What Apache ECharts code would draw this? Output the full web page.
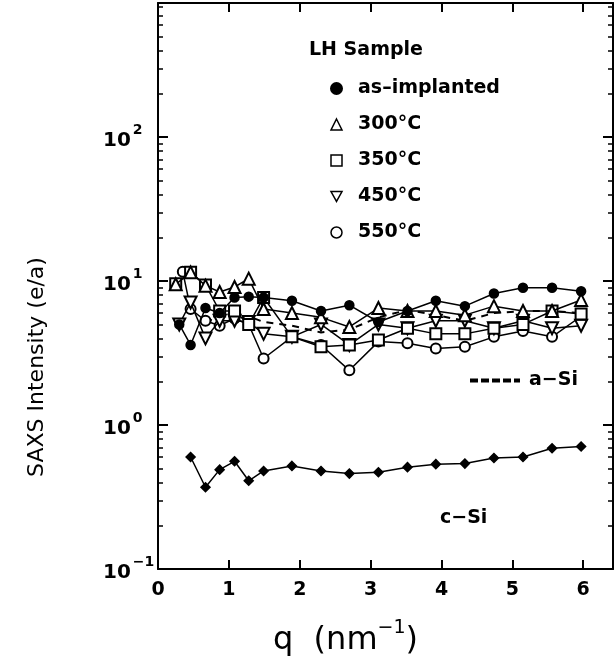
<!DOCTYPE html>
<html><head><meta charset="utf-8">
<script src="https://cdn.jsdelivr.net/npm/echarts@6/dist/echarts.min.js"></script>
<style>html,body{margin:0;padding:0;background:#fff}#c{width:616px;height:671px}</style>
</head><body><div id="c"></div>
<script>
// ---- data (q in nm^-1, intensity in e/a) ----
const xTicks = [0, 1, 2, 3, 4, 5, 6];
const yMajor = [0.1, 1, 10, 100];
const yMinor = [0.2,0.3,0.4,0.5,0.6,0.7,0.8,0.9,2,3,4,5,6,7,8,9,20,30,40,50,60,70,80,90,200,300,400,500,600,700,800];

const asImplanted = [[0.30,5.0],[0.46,3.6],[0.67,6.5],[0.87,6.0],[1.08,7.7],[1.28,7.8],[1.49,7.7],[1.89,7.3],[2.30,6.2],[2.70,6.8],[3.11,5.2],[3.52,6.2],[3.92,7.3],[4.33,6.7],[4.74,8.2],[5.15,9.0],[5.56,9.0],[5.97,8.5]];
const t300 = [[0.25,9.5],[0.46,11.5],[0.67,9.3],[0.87,8.4],[1.08,9.1],[1.28,10.4],[1.49,6.4],[1.89,6.0],[2.30,5.6],[2.70,4.8],[3.11,6.5],[3.52,6.2],[3.92,6.2],[4.33,5.8],[4.74,6.7],[5.15,6.2],[5.56,6.2],[5.97,7.4]];
const t350 = [[0.25,9.6],[0.46,11.5],[0.67,9.4],[0.87,6.2],[1.08,6.2],[1.28,5.0],[1.49,7.7],[1.89,4.1],[2.30,3.5],[2.70,3.6],[3.11,3.9],[3.52,4.7],[3.92,4.3],[4.33,4.3],[4.74,4.7],[5.15,5.0],[5.56,6.2],[5.97,5.9]];
const t450 = [[0.30,5.0],[0.46,7.1],[0.67,4.0],[0.87,5.3],[1.08,5.3],[1.28,5.2],[1.49,4.3],[1.89,4.1],[2.30,5.0],[2.70,3.6],[3.11,5.0],[3.52,4.7],[3.92,5.3],[4.33,5.3],[4.74,4.7],[5.15,5.3],[5.56,4.7],[5.97,4.9]];
const t550 = [[0.35,11.6],[0.46,6.4],[0.67,5.3],[0.87,4.9],[1.08,5.5],[1.28,5.0],[1.49,2.9],[1.89,4.1],[2.30,3.6],[2.70,2.4],[3.11,3.8],[3.52,3.7],[3.92,3.4],[4.33,3.5],[4.74,4.1],[5.15,4.5],[5.56,4.1],[5.97,5.7]];
const aSi = [[0.67,5.6],[0.87,5.0],[1.08,5.5],[1.28,5.7],[1.49,5.2],[1.89,4.9],[2.30,4.4],[2.70,4.6],[3.11,5.6],[3.52,6.3],[3.92,5.8],[4.33,5.3],[4.74,6.0],[5.15,6.2],[5.56,6.2],[5.97,6.0]];
const cSi = [[0.46,0.60],[0.67,0.37],[0.87,0.49],[1.08,0.56],[1.28,0.41],[1.49,0.48],[1.89,0.52],[2.30,0.48],[2.70,0.46],[3.11,0.47],[3.52,0.51],[3.92,0.535],[4.33,0.54],[4.74,0.59],[5.15,0.60],[5.56,0.69],[5.97,0.71]];

const seriesNames = ['as\u2013implanted', '300°C', '350°C', '450°C', '550°C'];

const FONT = 'DejaVu Sans';
const BLACK = '#000';
const Y_MIN = 0.1, Y_MAX = 855, X_MIN = 0, X_MAX = 6.42;

function isInt(v, list){ return list.some(t => Math.abs(t - v) < 1e-9); }

function yLabel(v){
  if (!isInt(v, yMajor)) return '';
  const e = Math.round(Math.log10(v));
  return '{b|10}{s|' + (e < 0 ? '\u2212' + (-e) : e) + '}';
}

function mkSeries(name, data, symbol, size, extra){
  return Object.assign({
    name, type: 'line', data, symbol, symbolSize: size,
    xAxisIndex: 0, yAxisIndex: 0,
    lineStyle: { color: BLACK, width: 1.5 },
    itemStyle: { color: BLACK, borderColor: BLACK, borderWidth: 1.5 },
    emphasis: { disabled: true }, silent: true, animation: false
  }, extra || {});
}

const baseY = { type: 'log', logBase: 10, min: Y_MIN, max: Y_MAX, gridIndex: 0, splitLine: { show: false } };
const baseX = { type: 'value', min: X_MIN, max: X_MAX, gridIndex: 0, splitLine: { show: false } };
const legendText = { fontFamily: FONT, fontSize: 19, fontWeight: 'bold', color: BLACK };

const chart = echarts.init(document.getElementById('c'), null, { renderer: 'canvas' });
chart.setOption({
  backgroundColor: '#fff',
  animation: false,
  grid: { left: 158, right: 3, top: 3, bottom: 102 },
  title: { text: 'LH Sample', left: 309, top: 41, padding: 0, textStyle: { fontFamily: FONT, fontSize: 19, fontWeight: 'bold', color: BLACK } },
  legend: [{
    data: [
      { name: seriesNames[0], icon: 'circle', itemStyle: { color: BLACK } },
      { name: seriesNames[1], icon: 'triangle', itemStyle: { color: '#fff', borderColor: BLACK, borderWidth: 1.5 } },
      { name: seriesNames[2], icon: 'rect', itemStyle: { color: '#fff', borderColor: BLACK, borderWidth: 1.5 } },
      { name: seriesNames[3], icon: 'path://M0,0L10,0L5,9Z', itemStyle: { color: '#fff', borderColor: BLACK, borderWidth: 1.5 } },
      { name: seriesNames[4], icon: 'circle', itemStyle: { color: '#fff', borderColor: BLACK, borderWidth: 1.5 } }
    ],
    orient: 'vertical', left: 330, top: 79, padding: 0, itemWidth: 11, itemHeight: 11, itemGap: 17,
    selectedMode: false,
    textStyle: Object.assign({ lineHeight: 17, padding: [0, 0, 0, 11] }, legendText)
  }, {
    data: [{ name: 'a\u2212Si', icon: 'path://M0,0h6v2h-6zM11,0h6v2h-6zM22,0h6v2h-6zM33,0h6v2h-6zM44,0h4v2h-4z' }],
    left: 470, top: 371, padding: 0, itemWidth: 50, itemHeight: 2, selectedMode: false,
    itemStyle: { color: BLACK },
    textStyle: Object.assign({ padding: [0, 0, 0, 4] }, legendText)
  }],
  graphic: [
    { type: 'text', left: 440, top: 509, silent: true, style: { text: 'c\u2212Si', font: 'bold 19px ' + FONT, fill: BLACK } },
    { type: 'text', x: 37, y: 367, rotation: Math.PI / 2, silent: true,
      style: { text: 'SAXS Intensity (e/a)', font: '22px ' + FONT, fill: BLACK, align: 'center', verticalAlign: 'middle' } }
  ],
  xAxis: [
    Object.assign({}, baseX, {
      position: 'bottom', interval: 1,
      name: '{a|q  (nm}{s|\u22121}{a|)}', nameLocation: 'middle', nameGap: 50,
      nameTextStyle: { padding: [0, 80, 0, 0], rich: { a: { fontFamily: FONT, fontSize: 32, color: BLACK, lineHeight: 38, verticalAlign: 'bottom' }, s: { fontFamily: FONT, fontSize: 19, color: BLACK, lineHeight: 38, verticalAlign: 'top' } } },
      axisLine: { show: true, lineStyle: { color: BLACK, width: 2 } },
      axisTick: { show: true, inside: true, length: 9, lineStyle: { color: BLACK, width: 2 }, customValues: xTicks },
      axisLabel: { show: true, margin: 12, customValues: xTicks, fontFamily: FONT, fontSize: 19, fontWeight: 'bold', color: BLACK, formatter: v => isInt(v, xTicks) ? String(v) : '' }
    }),
    Object.assign({}, baseX, {
      position: 'top', interval: 1,
      axisLine: { show: true, lineStyle: { color: BLACK, width: 2 } },
      axisTick: { show: true, inside: true, length: 9, lineStyle: { color: BLACK, width: 2 }, customValues: xTicks },
      axisLabel: { show: false }
    })
  ],
  yAxis: [
    Object.assign({}, baseY, {
      position: 'left',
      axisLine: { show: true, lineStyle: { color: BLACK, width: 2 } },
      axisTick: { show: true, inside: true, length: 10, lineStyle: { color: BLACK, width: 2 }, customValues: yMajor },
      axisLabel: { show: true, margin: 55, align: 'left', customValues: yMajor, formatter: yLabel,
        rich: { b: { fontFamily: FONT, fontSize: 20, fontWeight: 'bold', color: BLACK, lineHeight: 28, verticalAlign: 'bottom' },
                s: { fontFamily: FONT, fontSize: 14, fontWeight: 'bold', color: BLACK, lineHeight: 14, verticalAlign: 'top', padding: [0, 0, 0, 2] } } }
    }),
    Object.assign({}, baseY, {
      position: 'left',
      axisLine: { show: false },
      axisTick: { show: true, inside: true, length: 5, lineStyle: { color: BLACK, width: 1.5 }, customValues: yMinor },
      axisLabel: { show: false }
    }),
    Object.assign({}, baseY, {
      position: 'right',
      axisLine: { show: true, lineStyle: { color: BLACK, width: 2 } },
      axisTick: { show: true, inside: true, length: 10, lineStyle: { color: BLACK, width: 2 }, customValues: yMajor },
      axisLabel: { show: false }
    }),
    Object.assign({}, baseY, {
      position: 'right',
      axisLine: { show: false },
      axisTick: { show: true, inside: true, length: 5, lineStyle: { color: BLACK, width: 1.5 }, customValues: yMinor },
      axisLabel: { show: false }
    })
  ],
  series: [
    mkSeries('a\u2212Si', aSi, 'none', 0, { lineStyle: { color: BLACK, width: 2, type: [7, 6] }, z: 1 }),
    mkSeries(seriesNames[4], t550, 'emptyCircle', 10, { z: 2 }),
    mkSeries(seriesNames[3], t450, 'emptyTriangle', 12, { symbolRotate: 180, z: 3 }),
    mkSeries(seriesNames[2], t350, 'emptyRect', 11, { z: 4 }),
    mkSeries(seriesNames[1], t300, 'emptyTriangle', 12, { z: 5 }),
    mkSeries(seriesNames[0], asImplanted, 'circle', 9, { z: 6 }),
    mkSeries('c\u2212Si', cSi, 'diamond', 9, { z: 6 })
  ]
});
</script></body></html>
